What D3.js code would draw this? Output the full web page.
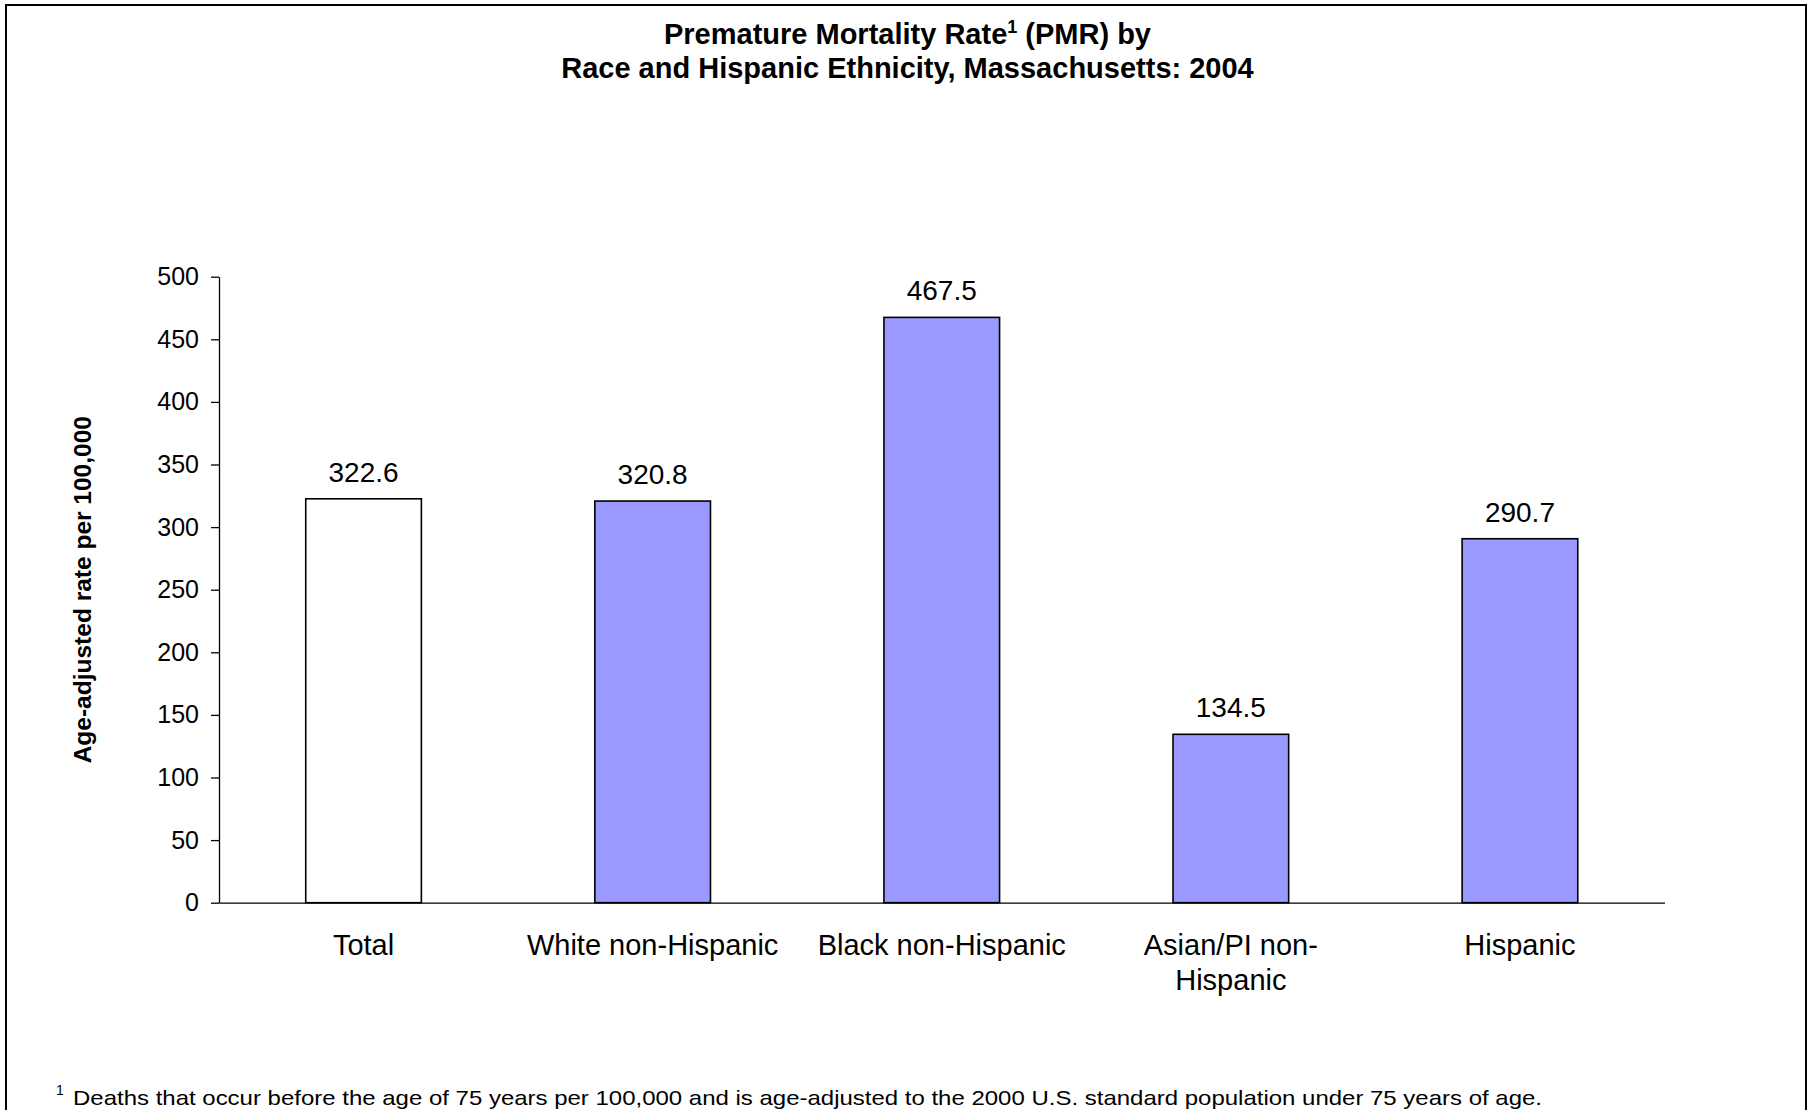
<!DOCTYPE html>
<html>
<head>
<meta charset="utf-8">
<script src="https://cdn.jsdelivr.net/npm/d3@7"></script>
<style>
  html, body { margin: 0; padding: 0; background: #fff; }
  svg { display: block; font-family: "Liberation Sans", Arial, sans-serif; }
</style>
</head>
<body>
<svg width="1815" height="1110"></svg>
<script>
// premature mortality bar chart, MA 2004

var categories = ["Total", "White non-Hispanic", "Black non-Hispanic", "Asian/PI non-Hispanic", "Hispanic"];
var values = [322.6, 320.8, 467.5, 134.5, 290.7];
var tickLabels = [["Total"], ["White non-Hispanic"], ["Black non-Hispanic"], ["Asian/PI non-", "Hispanic"], ["Hispanic"]];
var yTicks = [0, 50, 100, 150, 200, 250, 300, 350, 400, 450, 500];

var makeVis = function() {

    var data = categories.map(function(c, i) {
        return { name: c, value: values[i], lines: tickLabels[i] };
    });

    var svg = d3.select("svg"),
        plotLeft = 219,
        plotRight = 1664.5,
        plotTop = 276.7,
        plotBottom = 902.7;

    // outer frame
    svg.append("rect")
       .attr("x", 6)
       .attr("y", 5)
       .attr("width", 1800)
       .attr("height", 1130)
       .attr("fill", "none")
       .attr("stroke", "#000")
       .attr("stroke-width", 2);

    // title
    var title = svg.append("text")
       .attr("text-anchor", "middle")
       .attr("font-weight", "bold")
       .attr("font-size", 29)
       .attr("fill", "#000");

    var t1 = title.append("tspan").attr("x", 907.5).attr("y", 44);
    t1.append("tspan").text("Premature Mortality Rate");
    t1.append("tspan").attr("font-size", 18).attr("dy", -11).text("1");
    t1.append("tspan").attr("dy", 11).text(" (PMR) by");

    title.append("tspan")
       .attr("x", 907.5)
       .attr("y", 78)
       .text("Race and Hispanic Ethnicity, Massachusetts: 2004");

    // scales
    var xScale = d3.scaleBand()
                   .domain(categories)
                   .range([plotLeft, plotRight])
                   .paddingInner(0.6)
                   .paddingOuter(0.3),
        yScale = d3.scaleLinear()
                   .domain([0, 500])
                   .range([plotBottom, plotTop]);

    // y axis
    var yAxis = d3.axisLeft(yScale)
                  .tickValues(yTicks)
                  .tickSize(8)
                  .tickSizeOuter(0)
                  .tickPadding(12);

    var yG = svg.append("g")
                .attr("transform", "translate(" + plotLeft + ",0)")
                .call(yAxis);

    yG.select(".domain").attr("stroke", "#000").attr("stroke-width", 1.3);
    yG.selectAll(".tick line").attr("stroke", "#000").attr("stroke-width", 1.3);
    yG.selectAll(".tick text")
      .attr("font-family", "\"Liberation Sans\", Arial, sans-serif")
      .attr("font-size", 25)
      .attr("fill", "#000");

    // y axis title
    svg.append("text")
       .attr("transform", "translate(91," + ((plotTop + plotBottom) / 2) + ") rotate(-90)")
       .attr("text-anchor", "middle")
       .attr("font-weight", "bold")
       .attr("font-size", 24.5)
       .attr("fill", "#000")
       .text("Age-adjusted rate per 100,000");

    // bars
    svg.selectAll("rect.bar")
       .data(data)
       .enter().append("rect")
       .attr("class", "bar")
       .attr("x", function(d) { return xScale(d.name); })
       .attr("width", xScale.bandwidth())
       .attr("y", function(d) { return yScale(d.value); })
       .attr("height", function(d) { return plotBottom - yScale(d.value); })
       .attr("fill", function(d) { return d.name === "Total" ? "#ffffff" : "#9999ff"; })
       .attr("stroke", "#000")
       .attr("stroke-width", 1.6);

    // x axis line (no ticks)
    var xAxis = d3.axisBottom(xScale).tickSize(0).tickSizeOuter(0).tickFormat("");
    var xG = svg.append("g")
                .attr("transform", "translate(0," + plotBottom + ")")
                .call(xAxis);
    xG.select(".domain").attr("stroke", "#000").attr("stroke-width", 1.3);

    // category labels
    var catLabels = svg.selectAll("text.cat")
       .data(data)
       .enter().append("text")
       .attr("class", "cat")
       .attr("text-anchor", "middle")
       .attr("font-size", 29)
       .attr("fill", "#000");

    catLabels.selectAll("tspan")
       .data(function(d) { return d.lines.map(function(l) { return { line: l, name: d.name }; }); })
       .enter().append("tspan")
       .attr("x", function(d) { return xScale(d.name) + xScale.bandwidth() / 2; })
       .attr("y", function(d, i) { return plotBottom + 52 + i * 35; })
       .text(function(d) { return d.line; });

    // value labels
    svg.selectAll("text.val")
       .data(data)
       .enter().append("text")
       .attr("class", "val")
       .attr("text-anchor", "middle")
       .attr("font-size", 28)
       .attr("fill", "#000")
       .attr("x", function(d) { return xScale(d.name) + xScale.bandwidth() / 2; })
       .attr("y", function(d) { return yScale(d.value) - 17; })
       .text(function(d) { return d3.format(".1f")(d.value); });

    // footnote
    svg.append("text")
       .attr("x", 56)
       .attr("y", 1095)
       .attr("font-size", 14)
       .attr("fill", "#000")
       .text("1");
    svg.append("text")
       .attr("x", 73)
       .attr("y", 1105)
       .attr("font-size", 21)
       .attr("fill", "#000")
       .attr("textLength", 1469)
       .attr("lengthAdjust", "spacingAndGlyphs")
       .text("Deaths that occur before the age of 75 years per 100,000 and is age-adjusted to the 2000 U.S. standard population under 75 years of age.");
};

makeVis();
</script>
</body>
</html>
